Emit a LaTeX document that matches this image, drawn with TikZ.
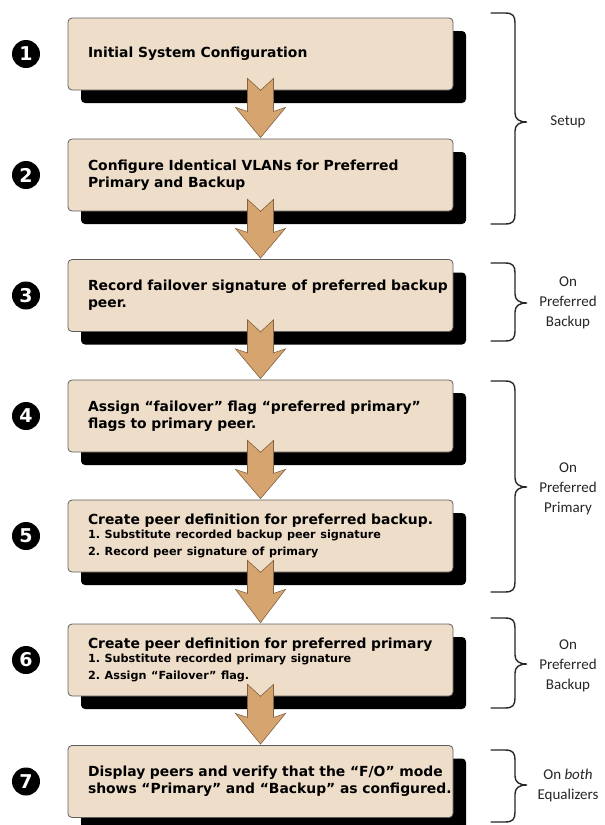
\documentclass[tikz,border=0pt]{standalone}
\usepackage{fontspec}
\setmainfont{DejaVu Sans}
\newfontfamily\lblfont{Carlito}
\usetikzlibrary{shadows,calc}
\definecolor{boxfill}{RGB}{238,222,201}
\definecolor{boxline}{RGB}{95,95,95}
\definecolor{arrowfill}{RGB}{214,164,110}
\definecolor{arrowline}{RGB}{130,98,66}
\tikzset{
  stepbox/.style={draw=boxline, line width=0.8pt, fill=boxfill, rounded corners=4pt,
    minimum width=385pt, minimum height=72pt, text width=345pt, inner xsep=20pt,
    align=left, font=\bfseries\fontsize{13.9}{17}\selectfont,
    drop shadow={shadow xshift=13pt, shadow yshift=-13pt, fill=black, opacity=1}},
  numdot/.style={circle, fill=black, text=white, minimum size=28pt, inner sep=0pt,
    font=\bfseries\fontsize{19}{19}\selectfont},
  grouplabel/.style={align=center, font=\lblfont\fontsize{15}{20}\selectfont, text=black!85},
  bracepath/.style={line width=1.4pt, draw=black!85, line cap=round},
  flowarrow/.style={fill=arrowfill, draw=arrowline, line width=0.6pt, line join=miter},
}
\newcommand\subitems{\fontsize{11.2}{14}\selectfont}
\newcommand\keepline[1]{\mbox{#1}}
\newcommand\flowstep[2]{%
  \path[flowarrow] ($(#1.south)+(-13,-12)$) -- (#1.south) -- ($(#1.south)+(13,-12)$)
    -- ($(#1.south)+(13,21)$) -- ($(#1.south)+(25,17)$) -- ($(#2.north)+(0,-1)$)
    -- ($(#1.south)+(-25,17)$) -- ($(#1.south)+(-13,21)$) -- cycle;}
\newcommand\groupbrace[3]{%
  \draw[bracepath] (491,#1) -- (505,#1) .. controls (513,#1) and (515,{#1+3}) .. (515,{#1+10})
    -- (515,{#2-9}) .. controls (515,{#2-3}) and (519,#2) .. (527,#2)
    .. controls (519,#2) and (515,{#2+3}) .. (515,{#2+9})
    -- (515,{#3-10}) .. controls (515,{#3-3}) and (513,#3) .. (505,#3) -- (491,#3);}
\begin{document}
\begin{tikzpicture}[x=1pt,y=-1pt]
\useasboundingbox (0,0) rectangle (605,825);
\clip (0,0) rectangle (605,825);
\fill[white] (0,0) rectangle (605,825);

\node[stepbox] (b1) at (260.5,54) {\keepline{Initial System Configuration}};
\node[stepbox] (b2) at (260.5,175) {\keepline{Configure Identical VLANs for Preferred}\\\keepline{Primary and Backup}};
\node[stepbox] (b3) at (260.5,295.5) {\keepline{Record failover signature of preferred backup}\\\keepline{peer.}};
\node[stepbox] (b4) at (260.5,416) {\keepline{Assign “failover” flag “preferred primary”}\\\keepline{flags to primary peer.}};
\node[stepbox] (b5) at (260.5,536) {\keepline{Create peer definition for preferred backup.}\\\subitems \keepline{1.\ Substitute recorded backup peer signature}\\\keepline{2.\ Record peer signature of primary}};
\node[stepbox] (b6) at (260.5,660) {\keepline{Create peer definition for preferred primary}\\\subitems \keepline{1.\ Substitute recorded primary signature}\\\keepline{2.\ Assign “Failover” flag.}};
\node[stepbox] (b7) at (260.5,781.5) {\keepline{Display peers and verify that the “F/O” mode}\\\keepline{shows “Primary” and “Backup” as configured.}};

\flowstep{b1}{b2}
\flowstep{b2}{b3}
\flowstep{b3}{b4}
\flowstep{b4}{b5}
\flowstep{b5}{b6}
\flowstep{b6}{b7}

\node[numdot] (n1) at (26,54) {1};
\node[numdot] (n2) at (26,175) {2};
\node[numdot] (n3) at (26,295.5) {3};
\node[numdot] (n4) at (26,416) {4};
\node[numdot] (n5) at (26,536) {5};
\node[numdot] (n6) at (26,660) {6};
\node[numdot] (n7) at (26,781.5) {7};

\groupbrace{13}{122}{224}
\groupbrace{263}{303}{341}
\groupbrace{381}{487}{592}
\groupbrace{618}{664}{708}
\groupbrace{750}{785}{822}

\node[grouplabel] (g1) at (568,122) {Setup};
\node[grouplabel] (g2) at (568,303) {On\\Preferred\\Backup};
\node[grouplabel] (g3) at (568,489) {On\\Preferred\\Primary};
\node[grouplabel] (g4) at (568,666) {On\\Preferred\\Backup};
\node[grouplabel] (g5) at (568,785) {On \textit{both}\\Equalizers};
\end{tikzpicture}
\end{document}
